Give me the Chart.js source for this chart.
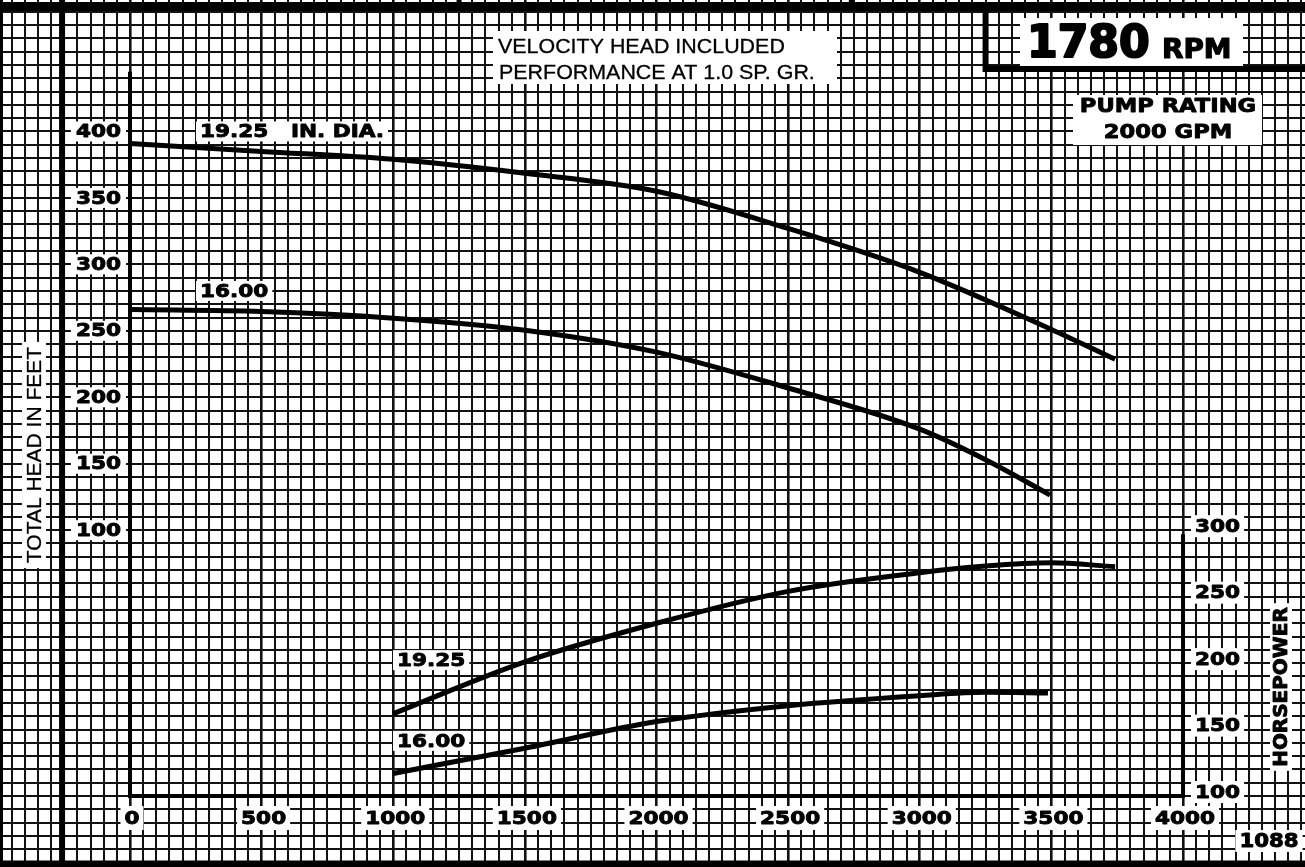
<!DOCTYPE html>
<html>
<head>
<meta charset="utf-8">
<title>1780 RPM pump curve</title>
<script src="https://cdn.jsdelivr.net/npm/chart.js@4"></script>
<style>
  html, body { margin: 0; padding: 0; background: #fff; overflow: hidden; }
  canvas { display: block; }
</style>
</head>
<body>
<canvas id="chart" width="1305" height="867"></canvas>
<script>
// axis ranges (whole sheet is the plot area, graph paper goes edge to edge)
const FLOW_MIN = -493.8;
const FLOW_MAX = 4463.4;
const HEAD_MIN = -153.4;
const HEAD_MAX = 498.9;
const HP_OFFSET = 200; // horsepower scale sits 200 above the head scale
const FLOW_STEP = 50;
const HEAD_STEP = 10;

// tick labels
const flowTicks = [0, 500, 1000, 1500, 2000, 2500, 3000, 3500, 4000];
const headTicks = [400, 350, 300, 250, 200, 150, 100];
const hpTicks = [300, 250, 200, 150, 100];

// head curves (GPM, feet)
const flow1925 = [0, 500, 1000, 1500, 2000, 2500, 3000, 3500, 3742];
const head1925 = [391, 385, 379, 368.5, 355, 327, 294, 251, 228.6];
const flow1600 = [0, 500, 1000, 1500, 2000, 2500, 3000, 3250, 3495];
const head1600 = [266, 264.5, 259.5, 250.5, 234, 207, 176, 153, 126.5];

// horsepower curves (GPM, HP)
const hpFlow1925 = [1000, 1500, 2000, 2500, 3000, 3250, 3500, 3742];
const hp1925 = [162, 201, 230, 254, 268, 273, 275.5, 272.5];
const hpFlow1600 = [1000, 1500, 2000, 2500, 3000, 3250, 3487];
const hp1600 = [117, 136, 156, 168, 175.5, 178, 177.5];

const BOLD = '"DejaVu Sans", sans-serif';
const PLAIN = '"Liberation Sans", Arial, sans-serif';

function gridValues(min, max, step) {
  const out = [];
  for (let v = Math.ceil(min / step) * step; v <= max; v += step) out.push(v);
  return out;
}

function toPoints(xs, ys) {
  return xs.map((x, i) => ({ x: x, y: ys[i] }));
}

function curve(data, axis) {
  return {
    data: data,
    yAxisID: axis,
    borderColor: "#000",
    borderWidth: 5,
    pointRadius: 0,
    fill: false,
    cubicInterpolationMode: "monotone"
  };
}

// text with white box behind, sx stretches the wide bold lettering
function label(ctx, text, x, y, opts) {
  const o = Object.assign({ size: 18, family: BOLD, weight: "bold", sx: 1.2, align: "left", pad: 4, h: 20, rot: 0, box: true, stroke: 0.9 }, opts);
  ctx.save();
  ctx.translate(x, y);
  if (o.rot) ctx.rotate(o.rot);
  ctx.font = `${o.weight} ${o.size}px ${o.family}`;
  const w = ctx.measureText(text).width * o.sx;
  let left = 0;
  if (o.align === "center") left = -w / 2;
  if (o.align === "right") left = -w;
  if (o.box) {
    ctx.fillStyle = "#fff";
    ctx.fillRect(left - o.pad, -o.h / 2, w + o.pad * 2, o.h);
  }
  ctx.fillStyle = "#000";
  ctx.strokeStyle = "#000";
  ctx.textBaseline = "middle";
  ctx.textAlign = "left";
  ctx.scale(o.sx, 1);
  ctx.fillText(text, left / o.sx, 1);
  if (o.stroke) {
    ctx.lineWidth = o.stroke;
    ctx.lineJoin = "round";
    ctx.strokeText(text, left / o.sx, 1);
  }
  ctx.restore();
}

function rule(ctx, x1, y1, x2, y2, w) {
  ctx.save();
  ctx.strokeStyle = "#000";
  ctx.lineWidth = w;
  ctx.lineCap = "butt";
  ctx.beginPath();
  ctx.moveTo(x1, y1);
  ctx.lineTo(x2, y2);
  ctx.stroke();
  ctx.restore();
}

function whiteBox(ctx, x1, y1, x2, y2) {
  ctx.fillStyle = "#fff";
  ctx.fillRect(x1, y1, x2 - x1, y2 - y1);
}

const paperPlugin = {
  id: "paper",
  beforeDraw(chart) {
    const ctx = chart.ctx;
    ctx.save();
    ctx.fillStyle = "#fff";
    ctx.fillRect(0, 0, chart.width, chart.height);
    ctx.restore();
  },
  beforeDatasetsDraw(chart) {
    const ctx = chart.ctx;
    const px = v => chart.scales.x.getPixelForValue(v);
    const py = v => chart.scales.y.getPixelForValue(v);
    const ph = v => chart.scales.yHp.getPixelForValue(v);
    const W = chart.width, H = chart.height;

    // sheet border and heavy rules
    rule(ctx, 0, py(494), W, py(494), 9);
    rule(ctx, px(1250), 0, px(1250), py(494), 5);
    rule(ctx, px(2740), 0, px(2740), py(494), 5);
    rule(ctx, 1.5, 0, 1.5, H, 3);
    rule(ctx, px(-258), 0, px(-258), H, 6);
    rule(ctx, 0, py(-151.5), W, py(-151.5), 8);

    // plot axes
    rule(ctx, px(0), py(445), px(0), py(-100) + 2, 4);
    rule(ctx, px(0) - 2, py(-100), px(4000) + 2, py(-100), 4);
    rule(ctx, px(4000), ph(297), px(4000), py(-100), 4);

    // rpm box
    rule(ctx, px(3250), py(494), px(3250), py(447) + 3, 6);
    rule(ctx, px(3250), py(447), W, py(447), 6);

    // notes
    whiteBox(ctx, 493, 31, 837, 84);
    label(ctx, "VELOCITY HEAD INCLUDED", 498, 46, { family: PLAIN, weight: "normal", size: 21, sx: 1.02, box: false, stroke: 0.3 });
    label(ctx, "PERFORMANCE AT 1.0 SP. GR.", 499, 72, { family: PLAIN, weight: "normal", size: 21, sx: 1.02, box: false, stroke: 0.3 });

    whiteBox(ctx, 1020, 18, 1243, 66);
    label(ctx, "1780", 1027, 44, { size: 45, sx: 0.98, box: false, stroke: 2.2 });
    label(ctx, "RPM", 1162, 50, { size: 27, sx: 1.03, box: false, stroke: 1.2 });

    whiteBox(ctx, 1073, 95, 1262, 145);
    label(ctx, "PUMP RATING", 1168, 106, { size: 20, sx: 1.13, align: "center", box: false });
    label(ctx, "2000 GPM", 1168, 132, { size: 20, sx: 1.13, align: "center", box: false });

    // axis labels
    headTicks.forEach(v => label(ctx, String(v), px(0) - 9, py(v), { align: "right", pad: 5 }));
    flowTicks.forEach(v => label(ctx, String(v), px(v) + 2, py(-100) + 22, { align: "center", h: 24 }));
    hpTicks.forEach(v => label(ctx, String(v), px(4000) + 12, ph(v) - 4, { h: 22 }));

    label(ctx, "TOTAL HEAD IN FEET", 34, 455, { family: PLAIN, weight: "normal", size: 21, sx: 1, align: "center", rot: -Math.PI / 2, h: 24, pad: 5, stroke: 0.3 });
    label(ctx, "HORSEPOWER", 1281, 687, { size: 19, sx: 1.05, align: "center", rot: -Math.PI / 2, h: 22 });
    label(ctx, "1088", 1269, 841, { size: 19, sx: 1.12, align: "center", h: 22 });

    // curve names
    label(ctx, "19.25   IN. DIA.", 200, py(400));
    label(ctx, "16.00", 200, py(280));
    label(ctx, "19.25", 397, ph(200) - 3);
    label(ctx, "16.00", 397, ph(140) - 2);
  }
};

function axis(min, max, step, heavyEvery, show) {
  return {
    type: "linear",
    min: min,
    max: max,
    display: show,
    afterBuildTicks: s => { s.ticks = gridValues(min, max, step).map(v => ({ value: v })); },
    ticks: { display: false, autoSkip: false },
    border: { display: false },
    grid: {
      drawTicks: false,
      color: "#111",
      lineWidth: ctx => (heavyEvery && ctx.tick && ctx.tick.value % heavyEvery === 0 ? 2.6 : 2)
    }
  };
}

new Chart(document.getElementById("chart"), {
  type: "line",
  data: {
    datasets: [
      curve(toPoints(flow1925, head1925), "y"),
      curve(toPoints(flow1600, head1600), "y"),
      curve(toPoints(hpFlow1925, hp1925), "yHp"),
      curve(toPoints(hpFlow1600, hp1600), "yHp")
    ]
  },
  options: {
    responsive: false,
    devicePixelRatio: 1,
    animation: false,
    layout: { padding: 0 },
    plugins: { legend: { display: false }, tooltip: { enabled: false } },
    scales: {
      x: axis(FLOW_MIN, FLOW_MAX, FLOW_STEP, 500, true),
      y: axis(HEAD_MIN, HEAD_MAX, HEAD_STEP, 0, true),
      yHp: Object.assign(axis(HEAD_MIN + HP_OFFSET, HEAD_MAX + HP_OFFSET, HEAD_STEP, 0, false), { position: "right" })
    }
  },
  plugins: [paperPlugin]
});
</script>
</body>
</html>
